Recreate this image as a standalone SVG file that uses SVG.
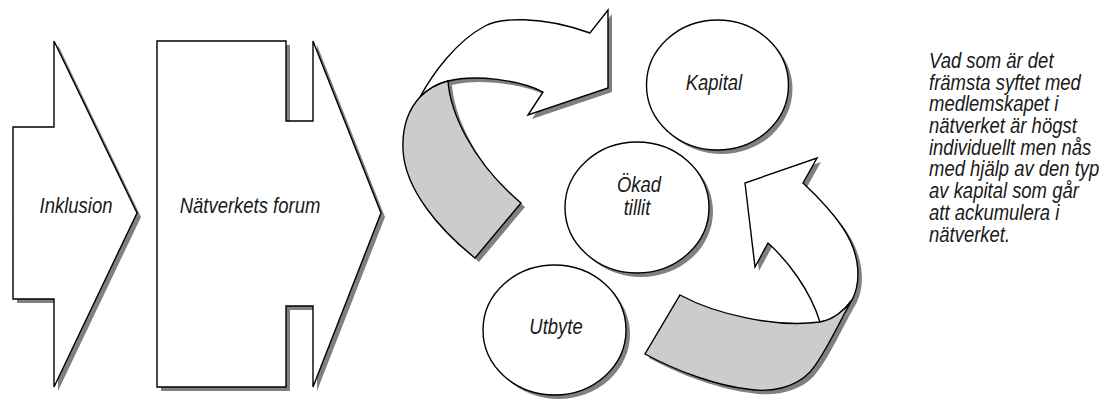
<svg xmlns="http://www.w3.org/2000/svg" xmlns:xlink="http://www.w3.org/1999/xlink" width="1110" height="401" viewBox="0 0 1110 401">
  <style>
    .shadow { fill: #808080; stroke: none; }
    .shape { fill: #ffffff; stroke: #000000; stroke-width: 1.4; stroke-linejoin: miter; }
    .band { fill: #cccccc; stroke: #000000; stroke-width: 1.4; stroke-linejoin: miter; }
    .label { font-family: "Liberation Sans Narrow", "Liberation Sans", Arial, sans-serif; font-style: italic; font-size: 22px; fill: #1a1a1a; }
    .mid { text-anchor: middle; }
  </style>
  <defs>
    <!-- block arrows -->
    <polygon id="inklusion-shape" points="13,127 54,127 54,41 137,213 54,387 54,299 13,299"/>
    <polygon id="forum-shape" points="157,41 286,41 286,121 313,121 313,41 381,213 313,387 313,306 286,306 286,387 157,387"/>
    <!-- ellipses -->
    <ellipse id="kapital-shape" cx="717.5" cy="85" rx="71" ry="65"/>
    <ellipse id="tillit-shape" cx="637" cy="207.5" rx="72" ry="65.5"/>
    <ellipse id="utbyte-shape" cx="554.5" cy="330" rx="71.5" ry="65"/>
    <!-- upper curved arrow: white head part and grey band -->
    <path id="upper-head" d="M420,97 C432,75 455,42 485,26 C500,18 540,15 590,33 L608,10 L608,88 L528,115 L543,92 C520,80 475,74 448,81 C436,84 427,90 420,97 Z"/>
    <path id="upper-band" d="M448,81 C450,110 470,160 521,203 L475,258 C440,230 405,190 403,150 C402,128 408,110 420,97 C427,90 436,84 448,81 Z"/>
    <!-- lower curved arrow: white head part and grey band -->
    <path id="lower-head" d="M768,243 C788,261 810,290 820,322 C833,320 845,310 852,300 C861,283 861,255 843,228 C833,213 818,197 803,183 L817,158 L745,183 L755,267 Z"/>
    <path id="lower-band" d="M680,295 C715,314 775,328 820,322 C833,320 845,310 852,300 C840,320 825,355 810,372 C795,388 770,393 747,389 C720,386 680,373 645,354 Z"/>
  </defs>

  <g id="inklusion">
    <use xlink:href="#inklusion-shape" class="shadow" transform="translate(4,4)"/>
    <use xlink:href="#inklusion-shape" class="shape"/>
    <text class="label mid" transform="translate(76,213) scale(0.84,1)">Inklusion</text>
  </g>

  <g id="natverkets-forum">
    <use xlink:href="#forum-shape" class="shadow" transform="translate(4,4)"/>
    <use xlink:href="#forum-shape" class="shape"/>
    <text class="label mid" transform="translate(250,213) scale(0.84,1)">Nätverkets forum</text>
  </g>

  <g id="connectors">
    <use xlink:href="#upper-head" class="shadow" transform="translate(4,4)"/>
    <use xlink:href="#upper-band" class="shadow" transform="translate(4,4)"/>
    <use xlink:href="#upper-head" class="shape"/>
    <use xlink:href="#upper-band" class="band"/>
    <use xlink:href="#lower-head" class="shadow" transform="translate(4,4)"/>
    <use xlink:href="#lower-band" class="shadow" transform="translate(4,4)"/>
    <use xlink:href="#lower-head" class="shape"/>
    <use xlink:href="#lower-band" class="band"/>
  </g>

  <g id="kapital">
    <use xlink:href="#kapital-shape" class="shadow" transform="translate(4,4)"/>
    <use xlink:href="#kapital-shape" class="shape"/>
    <text class="label mid" transform="translate(714,90) scale(0.84,1)">Kapital</text>
  </g>

  <g id="okad-tillit">
    <use xlink:href="#tillit-shape" class="shadow" transform="translate(4,4)"/>
    <use xlink:href="#tillit-shape" class="shape"/>
    <text class="label mid" transform="translate(639,192) scale(0.84,1)">Ökad</text>
    <text class="label mid" transform="translate(637,215) scale(0.84,1)">tillit</text>
  </g>

  <g id="utbyte">
    <use xlink:href="#utbyte-shape" class="shadow" transform="translate(4,4)"/>
    <use xlink:href="#utbyte-shape" class="shape"/>
    <text class="label mid" transform="translate(556,334) scale(0.84,1)">Utbyte</text>
  </g>

  <!-- note block, condensed horizontally -->
  <g id="note" transform="translate(929,0) scale(0.84,1)">
    <text class="label" x="0" y="68">Vad som är det</text>
    <text class="label" x="0" y="89.7">främsta syftet med</text>
    <text class="label" x="0" y="111.4">medlemskapet i</text>
    <text class="label" x="0" y="133.1">nätverket är högst</text>
    <text class="label" x="0" y="154.8">individuellt men nås</text>
    <text class="label" x="0" y="176.5">med hjälp av den typ</text>
    <text class="label" x="0" y="198.2">av kapital som går</text>
    <text class="label" x="0" y="219.9">att ackumulera i</text>
    <text class="label" x="0" y="241.6">nätverket.</text>
  </g>
</svg>
